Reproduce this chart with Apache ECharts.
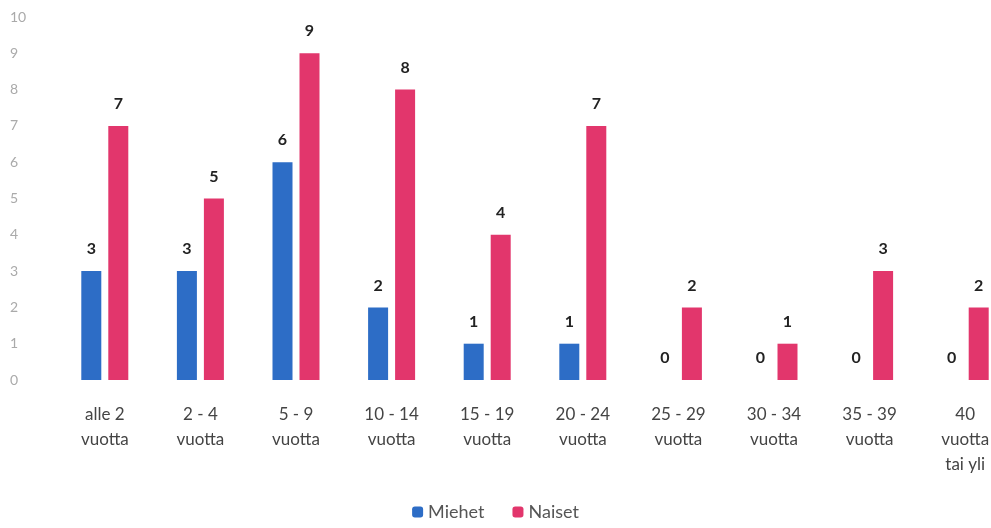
<!DOCTYPE html>
<html>
<head>
<meta charset="utf-8">
<script src="https://cdn.jsdelivr.net/npm/echarts@6/dist/echarts.min.js"></script>
<style>
	html, body { margin: 0; padding: 0; background: #fff; }
	#chart { width: 991px; height: 528px; }
</style>
</head>
<body>
<div id="chart"></div>
<script>
var categories = ['alle 2\nvuotta', '2 - 4\nvuotta', '5 - 9\nvuotta', '10 - 14\nvuotta', '15 - 19\nvuotta',
	'20 - 24\nvuotta', '25 - 29\nvuotta', '30 - 34\nvuotta', '35 - 39\nvuotta', '40\nvuotta\ntai yli'];
var miehet = [3, 3, 6, 2, 1, 1, 0, 0, 0, 0];
var naiset = [7, 5, 9, 8, 4, 7, 2, 1, 3, 2];
var yTicks = [0, 10, 1]; // min, max, interval

window.onload = function() {
	var font = 'Lato';
	var valueLabel = {
		show: true,
		position: 'top',
		distance: 14,
		fontFamily: font,
		fontSize: 16,
		fontWeight: 'bold',
		color: '#222'
	};
	var option = {
		animation: false,
		textStyle: { fontFamily: font },
		grid: {
			left: 57,
			right: -22,
			top: 17,
			bottom: 148,
			outerBoundsMode: 'none'
		},
		legend: {
			bottom: 2,
			left: 'center',
			itemWidth: 11,
			itemHeight: 11,
			itemGap: 28,
			textStyle: { fontSize: 18, color: '#555', fontFamily: font },
			data: ['Miehet', 'Naiset']
		},
		xAxis: [{
			type: 'category',
			data: categories,
			axisLine: { show: false },
			axisTick: { show: false },
			axisLabel: {
				interval: 0,
				margin: 22,
				fontSize: 17,
				lineHeight: 25,
				color: '#444'
			}
		}],
		yAxis: [{
			type: 'value',
			min: yTicks[0],
			max: yTicks[1],
			interval: yTicks[2],
			splitLine: { show: false },
			axisLine: { show: false },
			axisTick: { show: false },
			axisLabel: {
				margin: 47,
				align: 'left',
				fontSize: 14,
				color: '#aaa'
			}
		}],
		series: [{
			name: 'Miehet',
			type: 'bar',
			barWidth: 20,
			barGap: '35%',
			itemStyle: { color: '#2d6dc6' },
			label: valueLabel,
			data: miehet
		}, {
			name: 'Naiset',
			type: 'bar',
			barWidth: 20,
			itemStyle: { color: '#e2366c' },
			label: valueLabel,
			data: naiset
		}]
	};
	var barChart = echarts.init(document.getElementById('chart'));
	barChart.setOption(option);
};
</script>
</body>
</html>
